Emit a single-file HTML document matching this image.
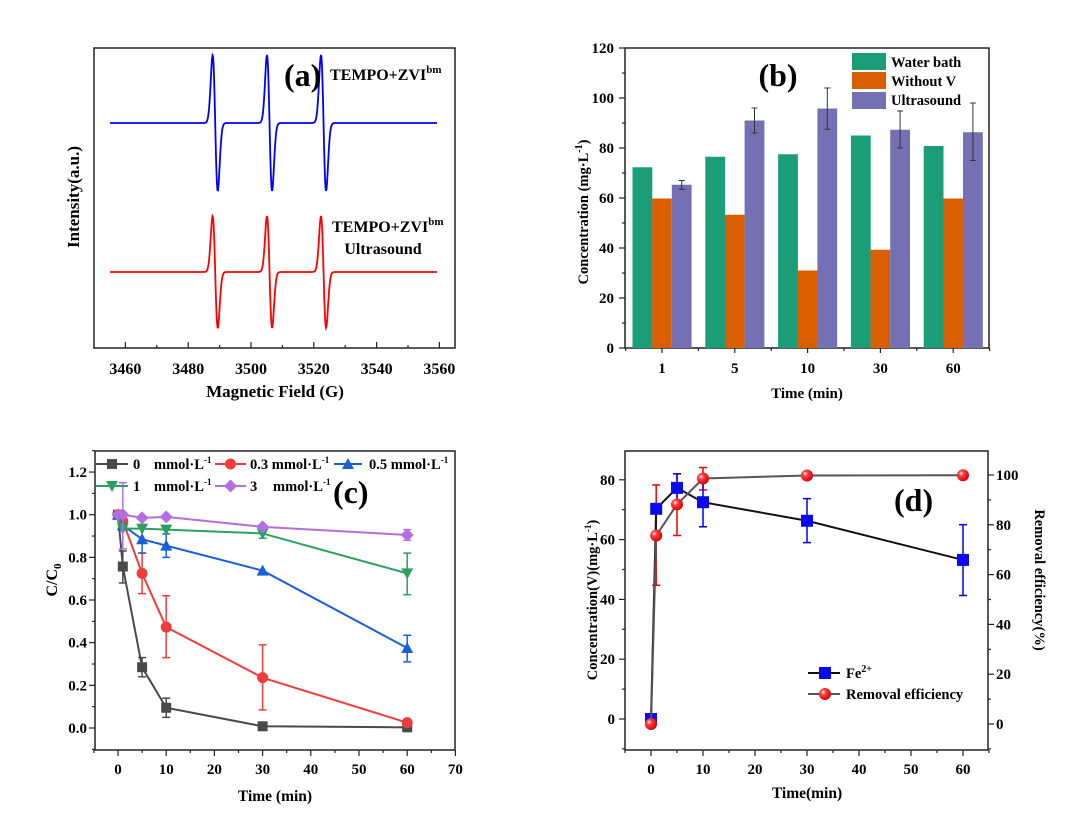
<!DOCTYPE html>
<html><head><meta charset="utf-8"><style>
html,body{margin:0;padding:0;background:#fff;}
svg text{font-family:"Liberation Serif",serif;font-weight:bold;}
</style></head><body>
<svg id="s" width="1076" height="819" xmlns="http://www.w3.org/2000/svg"></svg>
<script>
const S=document.getElementById('s');let h='';
function L(x1,y1,x2,y2,c,w){h+=`<line x1="${x1}" y1="${y1}" x2="${x2}" y2="${y2}" stroke="${c||'#000'}" stroke-width="${w||1}"/>`;}
function T(x,y,t,fs,anc,extra){h+=`<text x="${x}" y="${y}" font-size="${fs}" text-anchor="${anc||'start'}" ${extra||''}>${t}</text>`;}
function R(x,y,w,hh,f){h+=`<rect x="${x}" y="${y}" width="${w}" height="${hh}" fill="${f}"/>`;}
function box(x1,y1,x2,y2){h+=`<rect x="${x1}" y="${y1}" width="${x2-x1}" height="${y2-y1}" fill="none" stroke="#222" stroke-width="1.5"/>`;}
function poly(pts,c,w){h+=`<polyline points="${pts.map(p=>p.join(',')).join(' ')}" fill="none" stroke="${c}" stroke-width="${w||2}"/>`;}
// ---------- (a)
box(94,48,455,348);
const ax=g=>94+(g-3450)*3.14;
for(let g=3460;g<=3560;g+=10){L(ax(g),348,ax(g),g%20==0?342:345,'#222',1.2);}
for(let g=3460;g<=3560;g+=20)T(ax(g),374,g,16,'middle');
T(275,397,'Magnetic Field (G)',17,'middle');
T(79,197,'Intensity(a.u.)',17,'middle','transform="rotate(-90 79 197)"');
function esr(base,amp,c){let p=[];const cs=[3488.6,3505.9,3523.1].map(ax);const w=3.6;
 for(let x=110;x<=437;x+=0.5){let y=0;for(const cc of cs){const u=(x-cc)/w;y+=(-u*Math.exp(-u*u))/0.4289*amp;}p.push([x.toFixed(1),(base-y).toFixed(1)]);}
 poly(p,c,1.8);}
esr(123,68,'#0000ff');esr(272,56,'#ff0000');
T(284,86,'(a)',32,'start');
T(330,80,'TEMPO+ZVI<tspan font-size="11" dy="-7">bm</tspan>',16);
T(332,232,'TEMPO+ZVI<tspan font-size="11" dy="-7">bm</tspan>',16);
T(383,254,'Ultrasound',16,'middle');
// ---------- (b)
box(625,48,989,348);
const by=v=>348-v*2.5;
for(let v=0;v<=120;v+=10){L(625,by(v),v%20==0?619:622,by(v),'#222',1.2);}
for(let v=0;v<=120;v+=20)T(614,by(v)+5,v,15,'end');
const cats=[1,5,10,30,60];const gv=[72.3,76.5,77.5,85,80.8],ov=[59.8,53.3,31,39.3,59.8],pv=[65.3,91,95.8,87.3,86.3];
const pe=[[63.5,67],[86,96],[87.5,104],[80,94.8],[75,98]];
cats.forEach((c,i)=>{const cx=662+i*72.8;
 R(cx-29.5,by(gv[i]),19.8,gv[i]*2.5,'#1b9e77');R(cx-9.8,by(ov[i]),19.6,ov[i]*2.5,'#d95f02');R(cx+9.8,by(pv[i]),19.8,pv[i]*2.5,'#7570b3');
 const ex=cx+19.7;L(ex,by(pe[i][0]),ex,by(pe[i][1]),'#333',1);L(ex-3,by(pe[i][0]),ex+3,by(pe[i][0]),'#333',1);L(ex-3,by(pe[i][1]),ex+3,by(pe[i][1]),'#333',1);
 L(cx,348,cx,353,'#222',1.2);L(cx+36.4,348,cx+36.4,351,'#222',1.2);
 T(cx,373,c,15,'middle');});
L(625.7,348,625.7,351,'#222',1.2);
R(852,53,34,17,'#1b9e77');R(852,72,34,17,'#d95f02');R(852,92,34,17,'#7570b3');
T(891,67,'Water bath',14.5);T(891,86,'Without V',14.5);T(891,105,'Ultrasound',14.5);
T(778,86,'(b)',32,'middle');
T(807,398,'Time (min)',15,'middle');
T(588,212,'Concentration (mg·L<tspan font-size="10" dy="-6">-1</tspan><tspan dy="6">)</tspan>',14.5,'middle','transform="rotate(-90 588 212)"');
// ---------- (c)
box(95,451,455,750);
const cx_=t=>118+t*4.82, cy_=v=>728-v*213.3;
for(let t=-5;t<=70;t+=5){L(cx_(t),750,cx_(t),t%10==0?756:753,'#222',1.2);}
for(let t=0;t<=70;t+=10)T(cx_(t),774,t,15,'middle');
for(let v=-0.1;v<=1.31;v+=0.1){const r=Math.round(v*10);L(95,cy_(r/10),r%2==0?89:92,cy_(r/10),'#222',1.2);}
for(let r=0;r<=12;r+=2)T(87,cy_(r/10)+5,(r/10).toFixed(1),15,'end');
T(275,801,'Time (min)',15.5,'middle');
T(57,580,'C/C<tspan font-size="11" dy="4">0</tspan>',16,'middle','transform="rotate(-90 57 580)"');
const ts=[0,1,5,10,30,60];
function mk(type,x,y,c){const s=5;
 if(type=='sq')h+=`<rect x="${x-s}" y="${y-s}" width="${2*s}" height="${2*s}" fill="${c}"/>`;
 else if(type=='ci')h+=`<circle cx="${x}" cy="${y}" r="${s+0.5}" fill="${c}"/>`;
 else if(type=='tu')h+=`<polygon points="${x},${y-6} ${x-6},${y+5} ${x+6},${y+5}" fill="${c}"/>`;
 else if(type=='td')h+=`<polygon points="${x},${y+6} ${x-6},${y-5} ${x+6},${y-5}" fill="${c}"/>`;
 else if(type=='di')h+=`<polygon points="${x},${y-6.5} ${x+6.5},${y} ${x},${y+6.5} ${x-6.5},${y}" fill="${c}"/>`;}
function eb(x,y1,y2,c){L(x,y1,x,y2,c,1.5);L(x-4,y1,x+4,y1,c,1.5);L(x-4,y2,x+4,y2,c,1.5);}
const ser=[
 ['#4a4a4a','sq',[1,0.757,0.285,0.095,0.008,0.003],{1:[0.68,0.83],5:[0.24,0.33],10:[0.05,0.14]}],
 ['#f03c3c','ci',[1,0.97,0.725,0.473,0.236,0.025],{5:[0.63,0.82],10:[0.33,0.62],30:[0.085,0.39]}],
 ['#1a5fd8','tu',[1,0.95,0.885,0.855,0.738,0.375],{5:[0.82,0.95],10:[0.80,0.91],60:[0.31,0.435]}],
 ['#2ca05e','td',[0.99,0.935,0.935,0.93,0.912,0.725],{30:[0.89,0.93],60:[0.625,0.82]}],
 ['#b46ee0','di',[1,1,0.985,0.99,0.943,0.905],{1:[0.84,1.15],60:[0.88,0.93]}]];
ser.forEach(([c,m,v,e])=>{for(const k in e)eb(cx_(+k),cy_(e[k][0]),cy_(e[k][1]),c);
 poly(ts.map((t,i)=>[cx_(t),cy_(v[i])]),c,2);ts.forEach((t,i)=>mk(m,cx_(t),cy_(v[i]),c));});
const sup='<tspan font-size="9" dy="-6">-1</tspan>';
function leg(x1,x2,y,c,m){L(x1,y,x2,y,c,2);mk(m,(x1+x2)/2,y,c);}
leg(96,128,464,'#4a4a4a','sq');T(133,469,'0',14.5);T(154,469,'mmol·L'+sup,14.5);
leg(215,246,464,'#f03c3c','ci');T(250,469,'0.3 mmol·L'+sup,14.5);
leg(334,362,464,'#1a5fd8','tu');T(369,469,'0.5 mmol·L'+sup,14.5);
leg(96,128,486,'#2ca05e','td');T(133,491,'1',14.5);T(154,491,'mmol·L'+sup,14.5);
leg(215,246,486,'#b46ee0','di');T(250,491,'3',14.5);T(273,491,'mmol·L'+sup,14.5);
T(333,503,'(c)',32,'start');
// ---------- (d)
box(625,451,988,750);
const dx=t=>651+t*5.2, dl=v=>719-v*2.99, dr=v=>724-v*2.49;
for(let t=-5;t<=65;t+=5){L(dx(t),750,dx(t),t%10==0?756:753,'#222',1.2);}
for(let t=0;t<=60;t+=10)T(dx(t),774,t,15,'middle');
for(let v=-10;v<=80;v+=10){L(625,dl(v),v%20==0?619:622,dl(v),'#222',1.2);}
for(let v=0;v<=80;v+=20)T(615,dl(v)+5,v,15,'end');
for(let v=-10;v<=100;v+=10){L(988,dr(v),v%20==0?994:991,dr(v),'#222',1.2);}
for(let v=0;v<=100;v+=20)T(996,dr(v)+5,v,15,'start');
T(807,798,'Time(min)',15.5,'middle');
T(597,600,'Concentration(V)(mg·L'+sup+'<tspan dy="6">)</tspan>',14.5,'middle','transform="rotate(-90 597 600)"');
T(1035,580,'Removal efficiency(%)',14.5,'middle','transform="rotate(90 1035 580)"');
const fe=[0,70.3,77.3,72.5,66.3,53.2], re=[0,75.7,88.2,98.6,99.8,99.9];
eb(dx(1),dr(55.7),dr(96),'#e00');eb(dx(5),dr(75.7),dr(100.5),'#e00');eb(dx(10),dr(94),dr(103),'#e00');
eb(dx(5),dl(72.5),dl(82),'#00e');eb(dx(10),dl(64.3),dl(80),'#00e');eb(dx(30),dl(59),dl(73.7),'#00e');eb(dx(60),dl(41.3),dl(65),'#00e');
poly(ts.map((t,i)=>[dx(t),dl(fe[i])]),'#111',2);
ts.forEach((t,i)=>h+=`<rect x="${dx(t)-6}" y="${dl(fe[i])-6}" width="12" height="12" fill="#0a0af0"/>`);
poly(ts.map((t,i)=>[dx(t),dr(re[i])]),'#555',2);
h+='<defs><radialGradient id="rg" cx="0.35" cy="0.35" r="0.7"><stop offset="0" stop-color="#fff"/><stop offset="0.3" stop-color="#ff4040"/><stop offset="1" stop-color="#d00000"/></radialGradient></defs>';
ts.forEach((t,i)=>h+=`<circle cx="${dx(t)}" cy="${dr(re[i])}" r="6" fill="url(#rg)"/>`);
L(808,673,840,673,'#111',2);h+=`<rect x="819" y="667" width="12" height="12" fill="#0a0af0"/>`;
L(808,694,840,694,'#555',2);h+=`<circle cx="825" cy="694" r="6" fill="url(#rg)"/>`;
T(846,678,'Fe<tspan font-size="10" dy="-6">2+</tspan>',14.5);T(846,699,'Removal efficiency',14.5);
T(894,511,'(d)',32,'start');
S.innerHTML=h;
</script>
</body></html>
